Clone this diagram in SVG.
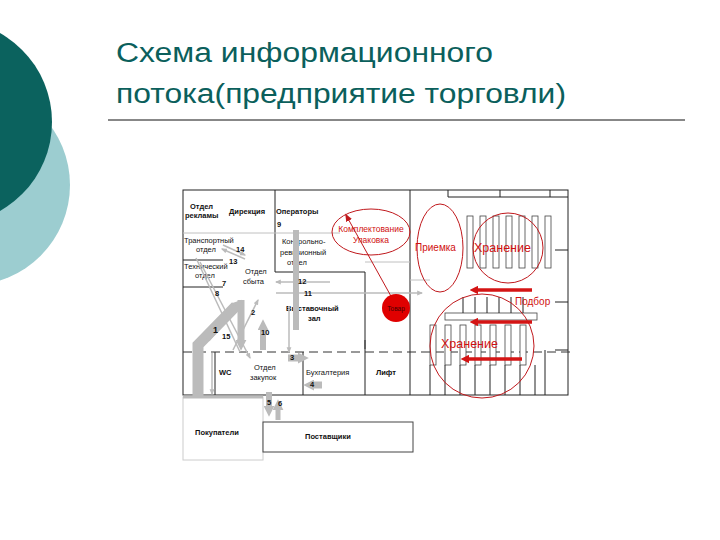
<svg xmlns="http://www.w3.org/2000/svg" width="720" height="540" viewBox="0 0 720 540">
<defs>
<style>
.t{font-family:"Liberation Sans",Arial,sans-serif;font-size:7.5px;fill:#111}
.b{font-weight:bold}
.r{font-family:"Liberation Sans",Arial,sans-serif;fill:#d01010}
.w{stroke:#222;stroke-width:1;fill:none}
.d{stroke:#333;stroke-width:1;stroke-dasharray:9 5;fill:none}
.g{stroke:#c0c0c0;fill:none}
.rack{fill:#fff;stroke:#444;stroke-width:.8}
.re{fill:none;stroke:#c0181c;stroke-width:1}
.ra{stroke:#d41414;stroke-width:3.5;marker-end:url(#ra)}
</style>
<marker id="ga" viewBox="0 0 10 10" refX="2" refY="5" markerUnits="userSpaceOnUse" markerWidth="11" markerHeight="11" orient="auto"><path d="M0,0L10,5L0,10z" fill="#bbb"/></marker>
<marker id="gs" viewBox="0 0 10 10" refX="8" refY="5" markerUnits="userSpaceOnUse" markerWidth="6" markerHeight="6" orient="auto"><path d="M0,1L10,5L0,9z" fill="#bbb"/></marker>
<marker id="ra" viewBox="0 0 10 10" refX="5" refY="5" markerWidth="2.5" markerHeight="2.5" orient="auto"><path d="M0,0L10,5L0,10z" fill="#d41414"/></marker>
<marker id="rt" viewBox="0 0 10 10" refX="8" refY="5" markerUnits="userSpaceOnUse" markerWidth="8" markerHeight="8" orient="auto"><path d="M0,1L10,5L0,9z" fill="#c0181c"/></marker>
</defs>
<rect width="720" height="540" fill="#fff"/>
<g id="bg">
<circle cx="-30" cy="185" r="100" fill="#9ccdd0"/>
<circle cx="-50" cy="122" r="102" fill="#0b625e"/>
</g>
<g id="title" font-family="Liberation Sans,Arial,sans-serif" font-size="27" fill="#0b5f5c">
<text x="116" y="62" textLength="377" lengthAdjust="spacingAndGlyphs">Схема информационного</text>
<text x="116" y="103" textLength="450" lengthAdjust="spacingAndGlyphs">потока(предприятие торговли)</text>
</g>
<line x1="108" y1="120" x2="685" y2="120" stroke="#111" stroke-width="1"/>

<g id="plan">
<rect x="183" y="190" width="385" height="205" class="w" stroke-width="1.5"/>
<path class="w" d="M275 190V272H365V395M410 190V395M183 260H223M183 287H223M215 352V395M303 352V395"/>
<path class="d" d="M183 352H570M365 340V352"/>
<path class="g" d="M183 233H340M365 262H410M410 280H430"/>
<path class="w" d="M448 190V197H568M500 190V197M550 190V197M555 250H568M555 302H568M555 350H568"/>
<g id="racks">
<rect class="rack" x="467" y="216" width="6" height="52"/><rect class="rack" x="480" y="216" width="6" height="52"/><rect class="rack" x="493" y="216" width="6" height="52"/><rect class="rack" x="506" y="216" width="6" height="52"/><rect class="rack" x="519" y="216" width="6" height="52"/><rect class="rack" x="532" y="216" width="6" height="52"/><rect class="rack" x="545" y="216" width="6" height="52"/>
<rect class="rack" x="445" y="313" width="92" height="7"/>
<path class="w" d="M463 297V313M475 297V313M487 297V313M499 297V313M511 297V313M523 297V313"/>
<rect class="rack" x="430" y="325" width="6" height="40"/><rect class="rack" x="445" y="325" width="6" height="40"/><rect class="rack" x="460" y="325" width="6" height="40"/><rect class="rack" x="475" y="325" width="6" height="40"/><rect class="rack" x="490" y="325" width="6" height="40"/><rect class="rack" x="505" y="325" width="6" height="40"/><rect class="rack" x="520" y="325" width="6" height="40"/>
<path class="w" d="M430 365V395M445 365V395M460 365V395M475 365V395M490 365V395M505 365V395M520 365V395M535 365V395M545 350V395"/>
</g>
<rect x="183" y="397" width="80" height="63" fill="#fff" stroke="#ccc"/>
<path d="M183 397H263" stroke="#bbb" stroke-width="3"/>
</g>

<g id="boxes">
<g id="n-reklama"><text class="t b" x="190" y="209">Отдел</text><text class="t b" x="185" y="218">рекламы</text></g>
<g id="n-direkcia"><text class="t b" x="229" y="214">Дирекция</text></g>
<g id="n-operatory"><text class="t b" x="276" y="214">Операторы</text></g>
<g id="n-transport"><text class="t" x="184" y="243" font-size="5">Транспортный</text><text class="t" x="196" y="252" font-size="5">отдел</text></g>
<g id="n-tech"><text class="t" x="184" y="269" font-size="5">Технический</text><text class="t" x="195" y="278" font-size="5">отдел</text></g>
<g id="n-kontrol"><text class="t" x="282" y="244" font-size="7">Контрольно-</text><text class="t" x="280" y="255" font-size="7">ревизионный</text><text class="t" x="287" y="265" font-size="7">отдел</text></g>
<g id="n-sbyt"><text class="t" x="245" y="274" font-size="8.5">Отдел</text><text class="t" x="243" y="284" font-size="8.5">сбыта</text></g>
<g id="n-zal"><text class="t b" x="286" y="311">Выставочный</text><text class="t b" x="308" y="321">зал</text></g>
<g id="n-wc"><text class="t b" x="219" y="375">WC</text></g>
<g id="n-zakup"><text class="t" x="254" y="370">Отдел</text><text class="t" x="250" y="380">закупок</text></g>
<g id="n-buh"><text class="t" x="306" y="375">Бухгалтерия</text></g>
<g id="n-lift"><text class="t b" x="376" y="375">Лифт</text></g>
<g id="n-pokup"><text class="t b" x="195" y="435">Покупатели</text></g>
<g id="n-post"><rect x="263" y="422" width="150" height="30" fill="#fff" stroke="#444"/><text class="t b" x="305" y="439">Поставщики</text></g>
</g>

<g id="connectors" fill="none">
<g stroke="#bbb" stroke-width="1.5">
<line x1="223" y1="245" x2="245" y2="255" marker-end="url(#gs)"/>
<line x1="245" y1="259" x2="222" y2="249" marker-end="url(#gs)"/>
<line x1="330" y1="282" x2="276" y2="282" marker-end="url(#gs)"/>
<line x1="276" y1="293" x2="422" y2="293" marker-end="url(#gs)"/>
<line x1="200" y1="262" x2="250" y2="358" marker-end="url(#gs)"/>
<line x1="196" y1="258" x2="240" y2="352"/>
<line x1="212" y1="353" x2="212" y2="394" marker-end="url(#gs)"/>
<line x1="289" y1="306" x2="289" y2="352" marker-end="url(#gs)"/>
<line x1="233" y1="350" x2="258" y2="300" marker-end="url(#gs)"/>
</g>
<g stroke="#bbb">
<path d="M198 398V345L236 306" stroke-width="11" marker-end="url(#ga)"/>
<path d="M208 340L236 306" stroke-width="4"/>
<path d="M241 300V342" stroke-width="7" marker-end="url(#ga)"/>
<path d="M263 350V328" stroke-width="6" marker-end="url(#ga)"/>
<path d="M296 230V330" stroke-width="6"/>
<path d="M288 358H300" stroke-width="7" marker-end="url(#ga)"/>
<path d="M322 385H312" stroke-width="7" marker-end="url(#ga)"/>
<path d="M269 392V408" stroke-width="6" marker-end="url(#ga)"/>
<path d="M278 420V408" stroke-width="5" marker-end="url(#ga)"/>
</g>
<g class="t b" font-size="7">
<text x="277" y="227">9</text><text x="236" y="252">14</text><text x="229" y="264">13</text><text x="222" y="286">7</text><text x="215" y="296">8</text><text x="298" y="284">12</text><text x="304" y="296">11</text><text x="251" y="315">2</text><text x="213" y="333" font-size="9">1</text><text x="222" y="339">15</text><text x="261" y="335">10</text><text x="290" y="360">3</text><text x="310" y="387">4</text><text x="267" y="405">5</text><text x="278" y="406">6</text>
</g>
</g>

<g id="red">
<ellipse class="re" cx="371" cy="232" rx="39" ry="23"/>
<text class="r" x="371" y="232" font-size="8.5" text-anchor="middle">Комплектование</text>
<text class="r" x="371" y="243" font-size="8.5" text-anchor="middle">Упаковка</text>
<ellipse class="re" cx="440" cy="248" rx="23" ry="44"/>
<text class="r" x="415" y="251" font-size="10">Приемка</text>
<circle class="re" cx="508" cy="248" r="35"/>
<text class="r" x="474" y="252" font-size="12.5">Хранение</text>
<circle class="re" cx="482" cy="346" r="52"/>
<text class="r" x="441" y="348" font-size="12.5">Хранение</text>
<text class="r" x="515" y="305" font-size="10">Подбор</text>
<line x1="392" y1="298" x2="346" y2="215" stroke="#c0181c" stroke-width="1" marker-end="url(#rt)"/>
<circle cx="396" cy="308" r="14" fill="#e00000"/>
<text x="396" y="311" font-family="Liberation Sans,Arial,sans-serif" font-size="6.5" fill="#400" text-anchor="middle">Товар</text>
<line class="ra" x1="532" y1="290" x2="474" y2="290"/>
<line class="ra" x1="532" y1="322" x2="474" y2="322"/>
<line class="ra" x1="522" y1="359" x2="465" y2="359"/>
</g>
</svg>
